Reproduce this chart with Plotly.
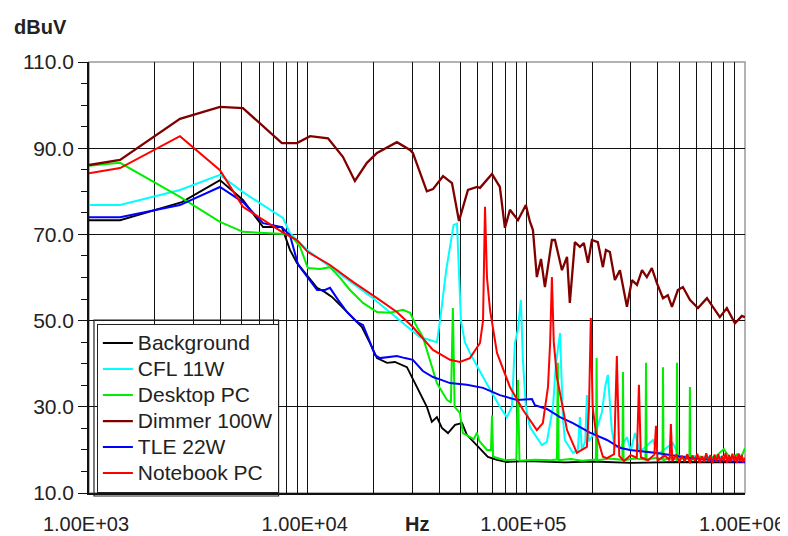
import plotly.graph_objects as go

# ---------------- data (frequency in Hz, level in dBuV) ----------------
bg_f = [1000, 1387, 2661, 3972, 5058, 6252, 7621, 8299, 8933, 9931, 11040, 12000, 12910,
        14350, 15950, 17710, 19270, 20750, 23070, 25060, 28440, 30270, 32580, 35080, 36980,
        38990, 41110, 43830, 47210, 50820, 53460, 58210, 62660, 66700, 73430, 81470, 100000,
        150000, 200000, 300000, 500000, 1000000]
bg_v = [73.3, 73.3, 77.5, 82.6, 78.0, 71.7, 71.7, 66.4, 63.4, 60.6, 57.6, 56.6, 55.5,
        53.2, 50.8, 48.5, 44.8, 41.3, 40.2, 40.4, 39.2, 36.5, 33.4, 30.0, 26.5,
        27.6, 25.1, 23.9, 25.8, 26.2, 23.5, 21.6, 20.0, 18.4, 17.7, 17.2, 17.4,
        17.1, 17.3, 17.0, 17.2, 17.1]

cfl_f = [1000, 1387, 2606, 3972, 5058, 7709, 8299, 9931, 19910, 32580, 38990, 40500, 43000,
         44500, 46500, 48190, 49200, 50230, 52360, 55210, 63390, 75680, 81470, 85900, 88650,
         91580, 94420, 96450, 99500, 103800, 117800, 124200, 132400, 136600, 142600, 146900,
         150000, 163300, 172000, 175800, 179500, 186000, 189200, 193000, 210400, 221800,
         230000, 236000, 246000, 254100, 270000, 288400, 300000, 314100, 330000, 379300,
         400000, 467700, 500000, 600000, 700000, 800000, 900000, 1000000]
cfl_v = [76.8, 76.8, 80.3, 83.8, 79.8, 73.8, 70.3, 66.4, 55.2, 46.2, 45.0, 50.8, 61.7,
         66.4, 72.2, 72.5, 62.0, 50.0, 45.0, 42.5, 36.9, 30.0, 27.6, 30.0, 44.8,
         48.0, 54.8, 40.9, 30.0, 25.3, 21.1, 21.9, 30.0, 40.0, 47.1, 27.6,
         22.3, 19.3, 20.0, 27.6, 20.0, 22.0, 32.7, 22.0, 25.0, 28.8,
         35.0, 37.4, 24.6, 20.7, 20.5, 23.0, 19.8, 23.9, 19.5, 22.3,
         19.0, 21.6, 18.5, 18.5, 18.3, 18.4, 18.1, 18.0]

pc_f = [1000, 1387, 2606, 3972, 5058, 6252, 7870, 8480, 9230, 10020, 11380, 12650, 14070,
        15610, 17900, 20750, 23770, 27290, 29380, 31620, 33630, 38990, 43350, 45200, 46130,
        47000, 49660, 51290, 57500, 59430, 61000, 66070, 68900, 69660, 70500, 80000, 90000,
        91580, 93000, 110000, 130000, 138000, 139300, 140600, 160000, 180000, 208000, 209600,
        211000, 240000, 275000, 276700, 278500, 310000, 350500, 352600, 354800, 390000,
        419500, 421700, 424000, 455000, 486000, 488700, 491500, 525000, 557000, 559800,
        562500, 620000, 680000, 740000, 800000, 860000, 920000, 960000, 1000000]
pc_v = [85.9, 86.6, 78.7, 72.9, 70.6, 70.3, 70.1, 69.5, 67.1, 62.2, 62.0, 62.4, 59.9,
        57.1, 54.1, 52.0, 51.8, 52.5, 51.8, 48.5, 46.2, 35.5, 31.6, 31.0, 52.9,
        30.0, 28.6, 23.9, 22.5, 24.0, 22.0, 20.0, 20.0, 28.0, 18.4, 17.6, 17.8,
        36.2, 17.5, 17.7, 17.6, 17.8, 40.2, 17.6, 17.9, 17.5, 17.8, 41.3,
        17.6, 18.0, 17.7, 38.1, 17.6, 18.0, 17.8, 40.2, 17.7, 18.2,
        17.8, 39.2, 17.6, 18.3, 17.7, 40.2, 17.9, 18.1, 17.8, 34.6,
        17.6, 18.4, 17.9, 18.6, 20.2, 17.8, 19.0, 18.2, 20.4]

dim_f = [1000, 1387, 2606, 3972, 5058, 6053, 7621, 8933, 10260, 12390, 14490, 16440, 18660,
         20750, 25590, 29380, 30270, 35080, 37410, 41590, 45710, 49200, 54080, 59430, 61380,
         69660, 75680, 79800, 84140, 91580, 99500, 103800, 107200, 111700, 116700, 121600,
         130900, 135200, 145500, 153500, 158100, 166700, 175800, 183200, 191400, 199500,
         212300, 223900, 231200, 241000, 254100, 267900, 288400, 304100, 320600, 338100,
         355600, 375000, 395400, 421700, 443600, 463400, 493200, 520000, 559800, 609500,
         669900, 712900, 767400, 826000, 899500, 968300, 1000000]
dim_v = [86.1, 87.3, 96.8, 99.6, 99.3, 95.8, 91.2, 91.2, 92.8, 92.3, 88.0, 82.4, 86.6,
         88.9, 91.4, 89.6, 88.9, 80.0, 80.5, 83.5, 81.9, 73.1, 80.3, 81.0, 80.8,
         84.0, 81.0, 71.5, 75.7, 73.3, 76.8, 73.0, 71.0, 60.1, 64.3, 57.8,
         68.7, 68.7, 61.7, 64.8, 54.1, 68.2, 67.1, 68.0, 63.4, 68.7,
         68.2, 62.4, 66.4, 65.9, 59.4, 61.7, 53.2, 59.4, 58.3, 61.7,
         60.1, 62.2, 58.7, 55.2, 55.9, 53.2, 57.1, 57.8, 54.8, 52.9,
         55.2, 53.2, 50.8, 52.9, 49.4, 51.1, 50.8]

tle_f = [1000, 1387, 2606, 3972, 5058, 6252, 7621, 8299, 9036, 10020, 11040, 12000, 12650,
         13770, 15140, 16800, 17900, 19270, 20320, 21420, 23300, 25590, 27860, 30270, 33630,
         37410, 41110, 44770, 53460, 63390, 75680, 90570, 106100, 109400, 124200, 142600,
         163300, 195400, 233900, 267900, 297800, 395400, 559800, 767400, 1000000]
tle_v = [74.0, 74.0, 76.8, 81.0, 77.5, 72.6, 71.7, 69.8, 63.0, 59.9, 57.1, 57.1, 57.6,
         54.8, 52.0, 49.7, 49.0, 45.0, 42.0, 41.3, 41.6, 41.8, 41.3, 40.9, 38.3,
         36.9, 36.2, 35.5, 35.1, 34.4, 32.7, 31.6, 31.8, 30.4, 29.5, 27.6,
         26.2, 24.0, 22.3, 20.5, 20.0, 19.3, 18.1, 17.5, 17.2]

nb_f = [1000, 1387, 2606, 3972, 5058, 6252, 7621, 8933, 10020, 12650, 16110, 20750, 25590,
        30270, 37410, 44770, 49660, 55210, 61380, 63390, 64710, 66070, 68230, 73430, 84140,
        96450, 111700, 119000, 125600, 128500, 130900, 133500, 138000, 153500, 170200,
        189200, 193500, 197200, 201000, 208000, 223900, 233900, 252000, 259400, 266000,
        280000, 300000, 320000, 327300, 334000, 360000, 385000, 391700, 398000, 430000,
        452000, 458200, 465000,
        485000, 500000, 515000, 530000, 545000, 560000, 575000, 590000, 605000, 620000,
        635000, 650000, 665000, 680000, 695000, 710000, 725000, 740000, 755000, 770000,
        785000, 800000, 815000, 830000, 845000, 860000, 875000, 890000, 905000, 920000,
        935000, 950000, 965000, 980000, 1000000]
nb_v = [84.2, 85.4, 92.8, 84.9, 76.4, 73.3, 70.6, 68.7, 65.9, 62.9, 59.0, 55.2, 52.0,
        48.5, 43.2, 40.9, 40.4, 41.3, 44.8, 50.0, 76.4, 60.0, 52.5, 42.5, 34.6,
        29.3, 24.6, 26.2, 34.6, 45.0, 60.1, 45.0, 36.9, 24.6, 19.3,
        20.7, 30.0, 50.6, 30.0, 24.0, 18.4, 18.1, 19.0, 41.8, 18.6,
        17.4, 18.8, 18.2, 35.1, 18.3, 17.6, 18.9, 25.6, 17.5, 18.7,
        17.6, 26.0, 17.4,
        18.9, 17.1, 18.6, 17.3, 19.0, 16.9, 18.7, 17.5, 19.1, 17.0,
        18.5, 17.2, 19.2, 17.4, 18.8, 16.9, 18.9, 17.3, 19.0, 17.1,
        18.6, 17.4, 19.3, 17.0, 18.8, 17.2, 19.1, 17.5, 18.7, 17.0,
        19.2, 17.3, 18.9, 17.1, 18.2]

series = [
    ("Background", bg_f, bg_v, "#000000", 1.9),
    ("CFL 11W", cfl_f, cfl_v, "#00ffff", 2.0),
    ("Desktop PC", pc_f, pc_v, "#00ee00", 2.0),
    ("Dimmer 100W", dim_f, dim_v, "#800000", 2.3),
    ("TLE 22W", tle_f, tle_v, "#0000ff", 2.0),
    ("Notebook PC", nb_f, nb_v, "#ff0000", 2.0),
]

decades = [1000, 10000, 100000, 1000000]
decade_labels = ["1.00E+03", "1.00E+04", "1.00E+05", "1.00E+06"]

# ---------------- figure ----------------
fig = go.Figure()
for name, f, v, color, w in series:
    fig.add_trace(go.Scatter(x=f, y=v, mode="lines",
                             name="<span style='font-size:21px'>" + name + "</span>",
                             line=dict(color=color, width=w)))

tickvals = []
ticktext = []
for i, d in enumerate(decades[:-1]):
    for k in range(1, 10):
        tickvals.append(d * k)
        ticktext.append(decade_labels[i] if k == 1 else "")
tickvals.append(decades[-1])
ticktext.append(decade_labels[-1])

font_family = "Arial, Liberation Sans, sans-serif"
txt = "#222222"
grid = "#111111"

fig.update_layout(
    width=780, height=528,
    margin=dict(l=81, r=43, t=54, b=43),
    paper_bgcolor="white", plot_bgcolor="white",
    font=dict(family=font_family, size=21, color=txt),
    showlegend=True,
    legend=dict(x=0.012, y=0.0, xanchor="left", yanchor="bottom",
                bgcolor="white", bordercolor=txt, borderwidth=1,
                font=dict(size=17.7, color=txt), itemwidth=30,
                tracegroupgap=0),
    xaxis=dict(type="log", range=[3, 6], tickvals=tickvals, ticktext=ticktext,
               showgrid=True, gridcolor=grid, gridwidth=1.4,
               showline=True, linecolor=grid, linewidth=1.6,
               ticks="", ticklabelstandoff=12, ticklabelshift=-3,
               ticklabeloverflow="allow",
               zeroline=False, automargin=False, tickfont=dict(size=20)),
    yaxis=dict(range=[10, 110], tick0=10, dtick=20, tickformat=".1f",
               showgrid=True, gridcolor=grid, gridwidth=1.4,
               showline=True, linecolor=grid, linewidth=1.6,
               ticks="outside", ticklen=9, tickcolor=grid, tickwidth=1.4,
               minor=dict(dtick=5, tick0=10, ticks="outside", ticklen=6,
                          tickcolor=grid, tickwidth=1.3, showgrid=False),
               zeroline=False, automargin=False, tickfont=dict(size=21)),
    shapes=[
        dict(type="rect", xref="paper", yref="paper", x0=0, x1=1, y0=0, y1=1,
             line=dict(color="#9a9a9a", width=1.5), layer="below"),
        dict(type="rect", xref="paper", yref="paper", x0=0.0076, x1=0.289,
             y0=-0.007, y1=0.401, line=dict(color=txt, width=1.2),
             fillcolor="rgba(0,0,0,0)", layer="above"),
    ],
    annotations=[
        dict(text="<b>dBuV</b>", xref="paper", yref="paper", x=-0.117, y=1.081,
             xanchor="left", yanchor="middle", showarrow=False,
             font=dict(size=20, color=txt)),
        dict(text="<b>Hz</b>", xref="paper", yref="paper", x=0.5, y=-0.072,
             xanchor="center", yanchor="middle", showarrow=False,
             font=dict(size=20, color=txt)),
    ],
)

fig.write_html("out.html")
